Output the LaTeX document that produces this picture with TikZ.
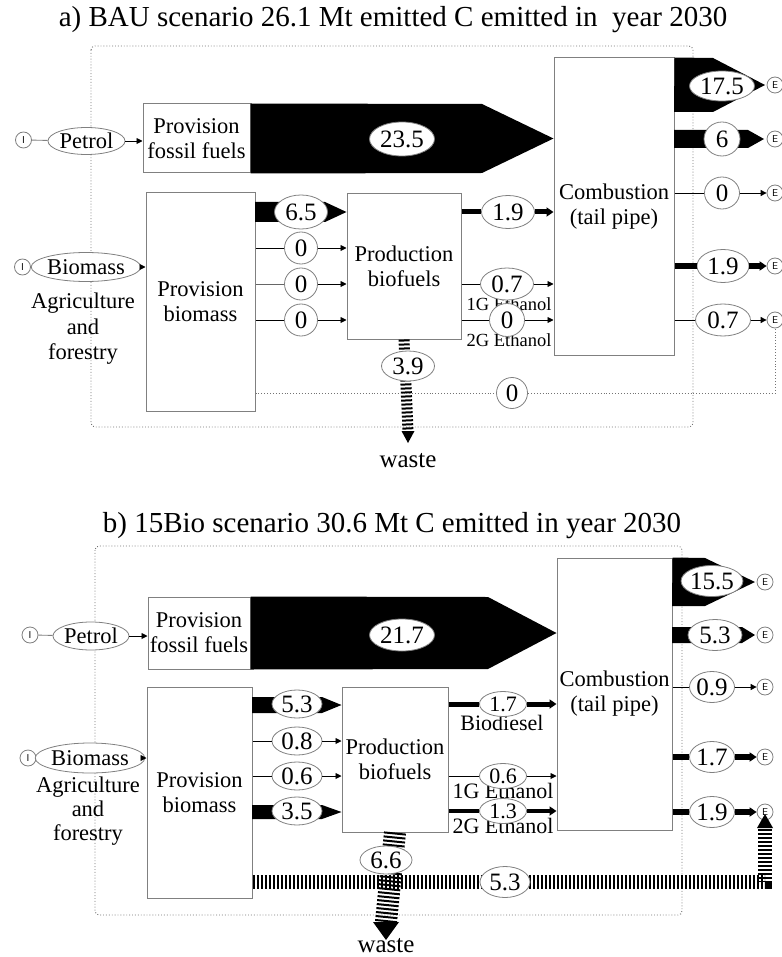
\documentclass[tikz,border=0pt]{standalone}
\usepackage{fontspec}
\setmainfont{Liberation Serif}
\usetikzlibrary{shapes.geometric,arrows.meta,calc}
\definecolor{edgegray}{gray}{0.5}
\definecolor{framegray}{gray}{0.45}
\begin{document}
\begin{tikzpicture}[x=1pt,y=-1pt,
  box/.style={draw=edgegray,line width=1pt,fill=white,inner sep=0pt,align=center,font=\fontsize{22.5}{25}\selectfont},
  num/.style={ellipse,draw=edgegray,line width=0.8pt,fill=white,inner sep=0pt,font=\fontsize{25}{27}\selectfont},
  smnum/.style={num,font=\fontsize{22}{24}\selectfont},
  io/.style={circle,draw=edgegray,line width=0.8pt,fill=white,minimum size=16pt,inner sep=0pt,font=\fontsize{10}{10}\sffamily},
  src/.style={ellipse,draw=edgegray,line width=0.8pt,fill=white,inner sep=0pt,font=\fontsize{22.5}{25}\selectfont},
  lab/.style={inner sep=0pt,anchor=base,font=\fontsize{18.5}{20}\selectfont},
  labb/.style={inner sep=0pt,anchor=base,font=\fontsize{22}{24}\selectfont},
  fl/.style={line width=0.9pt,draw=black},
  sarrow/.style={-{Triangle[length=6pt,width=6pt]}},
  barrow/.style={-{Triangle[length=7pt,width=9pt]}},
  dotframe/.style={draw=framegray,dotted,line width=0.9pt,rounded corners=4pt},
  hatch/.style={dash pattern=on 2pt off 2pt},
  ttl/.style={inner sep=0pt,anchor=base,font=\fontsize{29}{31}\selectfont},
  agri/.style={inner sep=0pt,align=center,font=\fontsize{22.5}{25.5}\selectfont},
  wst/.style={inner sep=0pt,anchor=base,font=\fontsize{25}{27}\selectfont},
]
\useasboundingbox (0,0) rectangle (781,957);

%================ PANEL A =================
\node[ttl] (ta) at (393,27) {a) BAU scenario 26.1 Mt emitted C emitted in \ year 2030};
\draw[dotframe] (91,46) rectangle (693,427);

\node[box,minimum width=107pt,minimum height=69pt] (pffa) at (196.5,138.5) {Provision\\fossil fuels};
\node[box,minimum width=109pt,minimum height=218pt] (pba) at (200.5,302) {Provision\\biomass};
\node[box,minimum width=114pt,minimum height=145pt] (proda) at (404,266.5) {Production\\biofuels};
\node[box,minimum width=120pt,minimum height=297pt] (comba) at (614,206.5) {Combustion\\(tail pipe)};

% sources
\node[io] (ia1) at (23.5,140) {I};
\node[src,minimum width=77pt,minimum height=27pt] (peta) at (86.5,141) {Petrol};
\draw[fl,draw=edgegray] (ia1) -- (peta);
\draw[fl,sarrow] (peta.east) -- (pffa.west |- peta.east);
\node[io] (ia2) at (22.5,267) {I};
\node[src,minimum width=98pt,minimum height=29pt] (bioa) at (86,267) {Biomass};
\draw[fl,draw=edgegray] (ia2) -- (bioa);
\draw[fl,sarrow] (bioa.east) -- (pba.west |- bioa.east);
\node[agri] (agra) at (83,329) {Agriculture\\and\\forestry};

% sinks
\node[io] (ea1) at (775,85) {E};
\node[io] (ea2) at (775,139) {E};
\node[io] (ea3) at (775,193) {E};
\node[io] (ea4) at (775,266) {E};
\node[io] (ea5) at (775,320) {E};

% black bands
\fill (pffa.north east) -- (482,104) -- (comba.west |- pffa.east) -- (482,173) -- (pffa.south east) -- cycle;
\fill (comba.north east) -- (713,58) -- (765,85) -- (713,112) -- (674,112) -- cycle;
\fill (674,130) -- (748,130) -- (764,139) -- (748,148) -- (674,148) -- cycle;
\fill (255,202) -- (325,202) -- (proda.west |- 0,212) -- (325,222) -- (255,222) -- cycle;

% waste a
\coordinate (wba) at (408,431);
\draw[line width=11pt,hatch] (proda.south) -- (wba);
\fill (401.5,431) -- (414.5,431) -- (408,443) -- cycle;
\node[wst] (wastea) at (408,467) {waste};

% dotted bypass
\coordinate (da) at (775,393);
\draw[fl,dotted,draw=framegray] (pba.east |- 0,393) -- (da) -- (ea5.south);

% labels
\node[lab] (g1a) at (509,310) {1G Ethanol};
\node[lab] (g2a) at (509,346) {2G Ethanol};

% number ellipses
\node[num,minimum width=65pt,minimum height=34pt] (n235) at (402,139) {23.5};
\node[num,minimum width=65pt,minimum height=30pt] (n175) at (722,86) {17.5};
\node[num,minimum width=36pt,minimum height=34pt] (n6) at (722,139) {6};
\node[num,minimum width=53pt,minimum height=34pt] (n65) at (301,212) {6.5};
\node[num,minimum width=53pt,minimum height=30pt] (n39) at (408,366) {3.9};
\node[num,minimum width=31pt,minimum height=31pt] (n0d) at (512,393) {0};

\node[num,minimum width=33pt,minimum height=32pt] (a01) at (301,248) {0};
\draw[fl] (pba.east |- a01) -- (a01.west);
\draw[fl,sarrow] (a01.east) -- (proda.west |- a01);
\node[num,minimum width=33pt,minimum height=32pt] (a02) at (301,284) {0};
\draw[fl,draw=black!60] (pba.east |- a02) -- (a02.west);
\draw[fl,sarrow] (a02.east) -- (proda.west |- a02);
\node[num,minimum width=33pt,minimum height=32pt] (a03) at (301,320) {0};
\draw[fl] (pba.east |- a03) -- (a03.west);
\draw[fl,sarrow] (a03.east) -- (proda.west |- a03);

\node[num,minimum width=53pt,minimum height=33pt] (a19) at (508,212) {1.9};
\draw[line width=5pt] (proda.east |- a19) -- (a19.west);
\draw[line width=5pt,barrow] (a19.east) -- (comba.west |- a19);
\node[num,minimum width=53pt,minimum height=32pt] (a07) at (507,284) {0.7};
\draw[fl] (proda.east |- a07) -- (a07.west);
\draw[fl,sarrow] (a07.east) -- (comba.west |- a07);
\node[num,minimum width=35pt,minimum height=33pt] (a00) at (507,320) {0};
\draw[fl] (proda.east |- a00) -- (a00.west);
\draw[fl,sarrow] (a00.east) -- (comba.west |- a00);

\node[num,minimum width=35pt,minimum height=32pt] (r0) at (722,193) {0};
\draw[fl] (comba.east |- r0) -- (r0.west);
\draw[fl,sarrow] (r0.east) -- (ea3.west);
\node[num,minimum width=52pt,minimum height=33pt] (r19) at (723,266) {1.9};
\draw[line width=6pt] (comba.east |- r19) -- (r19.west);
\draw[line width=6pt,barrow] (r19.east) -- (ea4.west);
\node[num,minimum width=55pt,minimum height=32pt] (r07) at (723,320) {0.7};
\draw[fl] (comba.east |- r07) -- (r07.west);
\draw[fl,sarrow] (r07.east) -- (ea5.west);

%================ PANEL B =================
\node[ttl] (tb) at (392,532) {b) 15Bio scenario 30.6 Mt C emitted in year 2030};
\draw[dotframe] (95,546) rectangle (682,915);

\node[box,minimum width=102pt,minimum height=72pt] (pffb) at (199,633) {Provision\\fossil fuels};
\node[box,minimum width=105pt,minimum height=211pt] (pbb) at (199.5,792.5) {Provision\\biomass};
\node[box,minimum width=106pt,minimum height=145pt] (prodb) at (395,759.5) {Production\\biofuels};
\node[box,minimum width=115pt,minimum height=272pt] (combb) at (614.5,694) {Combustion\\(tail pipe)};

\node[io] (ib1) at (30,635) {I};
\node[src,minimum width=75pt,minimum height=28pt] (petb) at (91,636) {Petrol};
\draw[fl,draw=edgegray] (ib1) -- (petb);
\draw[fl,sarrow] (petb.east) -- (pffb.west |- petb.east);
\node[io] (ib2) at (28,758) {I};
\node[src,minimum width=96pt,minimum height=30pt] (biob) at (90,758) {Biomass};
\draw[fl,draw=edgegray] (ib2) -- (biob);
\draw[fl,sarrow] (biob.east) -- (pbb.west |- biob.east);
\node[agri,font=\fontsize{22.5}{24}\selectfont] (agrb) at (88,811) {Agriculture\\and\\forestry};

\node[io] (eb1) at (765,582) {E};
\node[io] (eb2) at (765,635) {E};
\node[io] (eb3) at (765,687) {E};
\node[io] (eb4) at (765,757) {E};
\node[io] (eb5) at (765,812) {E};

% bands
\fill (pffb.north east) -- (488,597) -- (combb.west |- pffb.east) -- (488,669) -- (pffb.south east) -- cycle;
\fill (combb.north east) -- (705,558) -- (755,582) -- (705,606) -- (672,606) -- cycle;
\fill (672,627) -- (742,627) -- (755,635) -- (742,643) -- (672,643) -- cycle;
\fill (252,697) -- (322,697) -- (prodb.west |- 0,705) -- (322,713) -- (252,713) -- cycle;
\fill (252,805) -- (322,805) -- (prodb.west |- 0,812) -- (322,819) -- (252,819) -- cycle;

% hatched flows
\coordinate (hb1) at (765,882);
\coordinate (hb2) at (765,828);
\draw[line width=14pt,hatch] (pbb.east |- hb1) -- (hb1) -- (hb2);
\fill (757,828) -- (773,828) -- (765,814) -- cycle;
\coordinate (wbb) at (386,922);
\draw[line width=22pt,hatch] (prodb.south) -- (wbb);
\fill (373,922) -- (399,922) -- (386,940) -- cycle;
\node[wst] (wasteb) at (386,952) {waste};

% labels
\node[labb] (bd) at (502,730) {Biodiesel};
\node[labb] (g1b) at (503,798) {1G Ethanol};
\node[labb] (g2b) at (503,833) {2G Ethanol};

% ellipses
\node[num,minimum width=65pt,minimum height=32pt] (n217) at (402,635) {21.7};
\node[num,minimum width=60pt,minimum height=31pt] (n155) at (712,581) {15.5};
\node[num,minimum width=54pt,minimum height=31pt] (n53r) at (715,635) {5.3};
\node[num,minimum width=50pt,minimum height=28pt] (n53i) at (297,704) {5.3};
\node[num,minimum width=50pt,minimum height=28pt] (n35) at (297,811) {3.5};
\node[num,minimum width=52pt,minimum height=28pt] (n66) at (386,860) {6.6};
\node[num,minimum width=50pt,minimum height=31pt] (n53h) at (505,882) {5.3};

\node[num,minimum width=50pt,minimum height=28pt] (b08) at (297,741) {0.8};
\draw[fl] (pbb.east |- b08) -- (b08.west);
\draw[fl,sarrow] (b08.east) -- (prodb.west |- b08);
\node[num,minimum width=50pt,minimum height=28pt] (b06) at (297,776) {0.6};
\draw[fl] (pbb.east |- b06) -- (b06.west);
\draw[fl,sarrow] (b06.east) -- (prodb.west |- b06);

\node[smnum,minimum width=47pt,minimum height=25pt] (o17) at (503,704) {1.7};
\draw[line width=5pt] (prodb.east |- o17) -- (o17.west);
\draw[line width=5pt,barrow] (o17.east) -- (combb.west |- o17);
\node[smnum,minimum width=47pt,minimum height=25pt] (o06) at (503,776) {0.6};
\draw[fl] (prodb.east |- o06) -- (o06.west);
\draw[fl,sarrow] (o06.east) -- (combb.west |- o06);
\node[smnum,minimum width=47pt,minimum height=25pt] (o13) at (503,811) {1.3};
\draw[line width=4.5pt] (prodb.east |- o13) -- (o13.west);
\draw[line width=4.5pt,barrow] (o13.east) -- (combb.west |- o13);

\node[num,minimum width=45pt,minimum height=31pt] (q09) at (712,687) {0.9};
\draw[fl] (combb.east |- q09) -- (q09.west);
\draw[fl,sarrow] (q09.east) -- (eb3.west);
\node[num,minimum width=45pt,minimum height=31pt] (q17) at (712,757) {1.7};
\draw[line width=6pt] (combb.east |- q17) -- (q17.west);
\draw[line width=6pt,barrow] (q17.east) -- (eb4.west);
\node[num,minimum width=45pt,minimum height=31pt] (q19) at (712,812) {1.9};
\draw[line width=6pt] (combb.east |- q19) -- (q19.west);
\draw[line width=6pt,barrow] (q19.east) -- (eb5.west);
\end{tikzpicture}
\end{document}
